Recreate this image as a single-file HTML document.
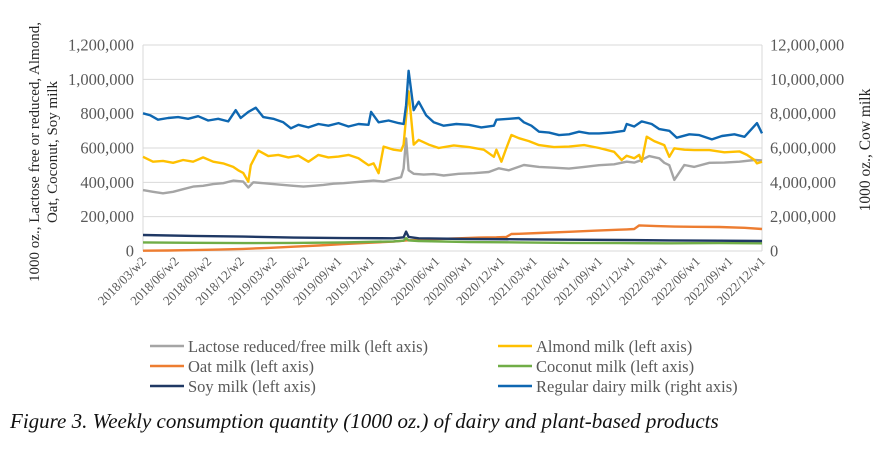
<!DOCTYPE html>
<html><head><meta charset="utf-8"><style>
body{margin:0;background:#fff;width:881px;height:449px;overflow:hidden;font-family:"Liberation Serif",serif;}
svg text{font-family:"Liberation Serif",serif;fill:#595959;}
</style></head><body>
<svg id="chart" width="881" height="449" xmlns="http://www.w3.org/2000/svg">
<g id="grid"></g>
<g id="series"></g>
<g id="axes"></g>
<text transform="translate(39,152) rotate(-90)" text-anchor="middle" font-size="15" style="fill:#262626">1000 oz., Lactose free or reduced, Almond,</text>
<text transform="translate(57,152) rotate(-90)" text-anchor="middle" font-size="15" style="fill:#262626">Oat, Coconut, Soy milk</text>
<text transform="translate(870,150) rotate(-90)" text-anchor="middle" font-size="15.5" style="fill:#262626">1000 oz., Cow milk</text>
<g id="legend"></g>
<text x="10" y="428" font-size="21" font-style="italic" style="fill:#111">Figure 3. Weekly consumption quantity (1000 oz.) of dairy and plant-based products</text>
</svg>
<script>
const tickLabels=["2018/03/w2","2018/06/w2","2018/09/w2","2018/12/w2","2019/03/w2","2019/06/w2","2019/09/w1","2019/12/w1","2020/03/w1","2020/06/w1","2020/09/w1","2020/12/w1","2021/03/w1","2021/06/w1","2021/09/w1","2021/12/w1","2022/03/w1","2022/06/w1","2022/09/w1","2022/12/w1"];
const leftTicks=[0,200000,400000,600000,800000,1000000,1200000];
const rightTicks=[0,2000000,4000000,6000000,8000000,10000000,12000000];
const blueWeeks=[0,3,6,10,14,18,22,26,30,34,37,39,42,45,48,52,56,59,62,66,70,74,78,82,86,90,91,94,98,102,104,105,106,108,110,113,116,120,125,130,135,140,141,146,150,152,155,158,162,166,170,174,178,182,187,192,193,196,199,203,206,210,213,218,222,227,231,236,240,245,247];
const blueVals=[8020,7900,7650,7750,7800,7700,7850,7600,7700,7550,8200,7750,8100,8350,7800,7700,7500,7150,7350,7200,7400,7300,7450,7250,7400,7350,8100,7500,7600,7450,7400,8500,10500,8200,8700,7900,7500,7300,7400,7350,7200,7300,7650,7700,7750,7500,7300,6950,6900,6750,6800,6950,6850,6850,6900,7000,7400,7250,7550,7400,7100,7000,6600,6800,6750,6500,6700,6800,6650,7450,6850];
const almondWeeks=[0,4,8,12,16,20,24,28,32,36,38,40,42,43,46,50,54,58,62,66,70,74,78,82,86,88,90,92,94,96,100,103,104,105,106,108,110,114,118,124,130,136,140,141,143,145,147,150,154,158,164,170,176,182,188,191,193,196,198,199,201,204,208,210,212,216,220,226,232,238,241,244,245,247];
const almondVals=[549,520,525,514,530,520,545,520,510,490,470,455,404,500,585,553,560,545,555,520,560,545,550,560,540,520,500,510,453,608,590,584,620,780,930,620,647,620,600,615,605,590,549,590,520,600,676,657,640,617,605,608,617,600,578,530,555,540,560,520,666,640,617,549,598,590,588,588,575,580,560,530,510,520];
const lactoseWeeks=[0,4,8,12,16,20,24,28,32,36,40,42,44,48,52,56,60,64,68,72,76,80,84,88,92,96,100,103,104,105,106,108,112,116,120,126,132,138,142,146,152,158,164,170,176,182,188,193,196,198,202,206,208,210,212,216,220,226,232,238,244,247];
const lactoseVals=[355,345,336,345,360,375,380,390,395,410,404,370,400,395,390,385,380,375,380,385,392,395,400,405,410,404,420,430,480,656,470,450,445,448,440,450,453,460,482,470,501,490,485,480,490,500,505,520,515,525,553,540,514,500,414,501,490,514,515,520,530,528];
const oatWeeks=[0,10,20,30,40,50,60,70,80,90,100,105,110,118,126,134,141,145,147,150,158,170,180,190,193,196,198,205,212,220,230,240,247];
const oatVals=[2,3,5,8,12,18,25,32,40,48,55,62,65,70,74,78,80,82,99,100,105,112,118,124,126,128,149,145,142,141,140,135,128];
const coconutWeeks=[0,20,40,60,80,100,104,105,106,110,130,150,170,190,210,230,247];
const coconutVals=[50,48,46,47,50,56,60,75,62,58,52,50,47,46,45,46,45];
const soyWeeks=[0,20,40,60,80,100,104,105,106,110,130,150,170,190,210,230,247];
const soyVals=[93,88,84,78,75,74,80,113,82,74,70,68,66,64,62,60,58];

const X0=143,X1=762,Y0=251,Y1=45,NW=247;
const xs=w=>X0+(X1-X0)*w/NW;
const yL=v=>Y0-(Y0-Y1)*v/1200000;
const yR=v=>Y0-(Y0-Y1)*v/12000000;
const NS="http://www.w3.org/2000/svg";
function mk(tag,parent){const e=document.createElementNS(NS,tag);document.getElementById(parent).appendChild(e);return e;}
const fmt=n=>n.toLocaleString('en-US');
leftTicks.forEach((t,i)=>{
  const l=mk('line','grid');
  
  
  l.setAttribute('x1',X0);l.setAttribute('x2',X1);l.setAttribute('y1',yL(t));l.setAttribute('y2',yL(t));
  l.setAttribute('stroke','#d9d9d9');l.setAttribute('stroke-width','1');
  const tx=mk('text','axes');
  
  
  tx.setAttribute('x',134);tx.setAttribute('y',yL(t)+5.5);tx.setAttribute('text-anchor','end');tx.setAttribute('font-size','16.5');
  tx.textContent=fmt(t);
});
rightTicks.forEach(t=>{
  const tx=mk('text','axes');
  
  
  tx.setAttribute('x',770);tx.setAttribute('y',yR(t)+5.5);tx.setAttribute('font-size','16.5');
  tx.textContent=fmt(t);
});
[X0,X1].forEach(x=>{const l=mk('line','grid');
  
  
  l.setAttribute('x1',x);l.setAttribute('x2',x);l.setAttribute('y1',Y1);l.setAttribute('y2',Y0);l.setAttribute('stroke','#d9d9d9');});
tickLabels.forEach((s,i)=>{
  const x=xs(i*13)+4,y=262;
  const tx=mk('text','axes');
  
  
  tx.setAttribute('transform',`translate(${x},${y}) rotate(-45)`);tx.setAttribute('text-anchor','end');tx.setAttribute('font-size','13');
  tx.textContent=s;
});
function line(weeks,vals,color,name,right){
  const p=mk('polyline','series');
  
  
  p.setAttribute('points',weeks.map((w,i)=>xs(w).toFixed(1)+','+(right?yR(vals[i]*1000):yL(vals[i]*1000)).toFixed(1)).join(' '));
  p.setAttribute('fill','none');p.setAttribute('stroke',color);p.setAttribute('stroke-width','2.4');p.setAttribute('stroke-linejoin','round');
}
line(oatWeeks,oatVals,'#ed7d31','oat-line');
line(coconutWeeks,coconutVals,'#70ad47','coconut-line');
line(soyWeeks,soyVals,'#1f3864','soy-line');
line(lactoseWeeks,lactoseVals,'#a5a5a5','lactose-line');
line(almondWeeks,almondVals,'#ffc000','almond-line');
line(blueWeeks,blueVals,'#0e67b1','dairy-line',true);
const leg=[["Lactose reduced/free milk (left axis)",'#a5a5a5',150,346],["Almond milk (left axis)",'#ffc000',498,346],["Oat milk (left axis)",'#ed7d31',150,366],["Coconut milk (left axis)",'#70ad47',498,366],["Soy milk (left axis)",'#1f3864',150,386],["Regular dairy milk (right axis)",'#0e67b1',498,386]];
leg.forEach(([t,c,x,y])=>{
  const l=mk('line','legend');
  
  
  l.setAttribute('x1',x);l.setAttribute('x2',x+34);l.setAttribute('y1',y);l.setAttribute('y2',y);l.setAttribute('stroke',c);l.setAttribute('stroke-width','2.5');
  const tx=mk('text','legend');
  
  
  tx.setAttribute('x',x+38);tx.setAttribute('y',y+6);tx.setAttribute('font-size','16.5');
  tx.textContent=t;
});
</script>
</body></html>
